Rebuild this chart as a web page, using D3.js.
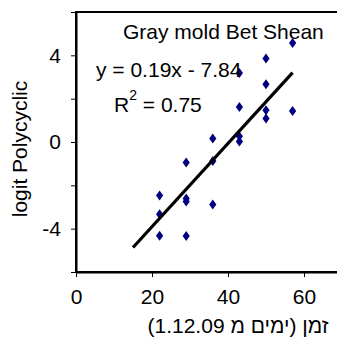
<!DOCTYPE html>
<html>
<head>
    <meta charset="utf-8">
    <script src="https://cdn.jsdelivr.net/npm/d3@7"></script>
    <style>
        body { margin: 0px; background: white; }
        text { font-family: "Liberation Sans", Arial, sans-serif; fill: black; }
    </style>
</head>
<body>
    <svg id="chart" width="337" height="347"></svg>
    <script>
        // days since 1.12.09 and the logit values
        var days = [22, 22, 22, 29, 29, 29, 29, 36, 36, 36, 43, 43, 43, 43, 50, 50, 50, 50, 57, 57];
        var logitVals = [-2.47, -3.33, -4.33, -0.95, -2.61, -2.75, -4.34, 0.16, -0.88, -2.89,
                         3.18, 1.62, 0.26, 0.02, 3.85, 2.66, 1.46, 1.08, 4.57, 1.43];
        // linear trend line ends
        var trendX = [15, 57];
        var trendY = [-4.87, 3.2];

        var xTicks = [0, 20, 40, 60];
        var yTicks = [-6, -4, -2, 0, 2, 4, 6];
        var yLabels = [-4, 0, 4];

        var svg = d3.select("#chart");
        // plot area box (note: "top" is reserved on window, so use plotTop)
        var plotLeft = 76, plotTop = 12, plotW = 266, plotH = 260;
        var fs = "21px";

        var x = d3.scaleLinear().domain([0, 70]).range([plotLeft, plotLeft + plotW]);
        var y = d3.scaleLinear().domain([-6, 6]).range([plotTop + plotH, plotTop]);

        // plot area border (right edge falls outside the window)
        svg.append("rect")
            .attr("x", plotLeft).attr("y", plotTop)
            .attr("width", plotW).attr("height", plotH)
            .style("fill", "none").style("stroke", "black").style("stroke-width", "2px");

        var xAxis = svg.append("g")
            .attr("transform", "translate(0," + (plotTop + plotH) + ")")
            .call(d3.axisBottom(x).tickValues(xTicks).tickSize(5).tickSizeOuter(0).tickPadding(12).tickFormat(d => String(d)));

        var yAxis = svg.append("g")
            .attr("transform", "translate(" + plotLeft + ",0)")
            .call(d3.axisLeft(y).tickValues(yTicks).tickSize(5).tickSizeOuter(0).tickPadding(10)
                .tickFormat(d => yLabels.indexOf(d) >= 0 ? String(d) : ""));

        [xAxis, yAxis].forEach(function(a){
            a.select(".domain").style("stroke", "black").style("stroke-width", "2px");
            a.selectAll(".tick line").style("stroke", "black").style("stroke-width", "1px");
            a.selectAll("text").style("font-size", fs).style("font-family", "Liberation Sans, Arial, sans-serif").attr("fill", "black");
        });

        // points as narrow diamonds
        svg.selectAll("path.pt")
            .data(days)
            .enter()
            .append("path")
            .attr("class", "pt")
            .attr("d", "M0,-5L3.6,0L0,5L-3.6,0Z")
            .attr("transform", (d, i) => "translate(" + x(d) + "," + y(logitVals[i]) + ")")
            .style("fill", "#000080");

        svg.append("line")
            .attr("x1", x(trendX[0])).attr("y1", y(trendY[0]))
            .attr("x2", x(trendX[1])).attr("y2", y(trendY[1]))
            .style("stroke", "black").style("stroke-width", "3.2px");

        // texts
        svg.append("text").attr("x", 123).attr("y", 39).style("font-size", fs).text("Gray mold Bet Shean");
        svg.append("text").attr("x", 96).attr("y", 77).style("font-size", fs).text("y = 0.19x - 7.84");
        var r2 = svg.append("text").attr("x", 114).attr("y", 112).style("font-size", fs);
        r2.append("tspan").text("R");
        r2.append("tspan").attr("dy", -12).style("font-size", "14px").text("2");
        r2.append("tspan").attr("dy", 12).text(" = 0.75");

        svg.append("text")
            .attr("transform", "translate(27,149) rotate(-90)")
            .attr("text-anchor", "middle")
            .style("font-size", fs)
            .text("logit Polycyclic");

        svg.append("text")
            .attr("x", 238).attr("y", 333)
            .attr("text-anchor", "middle")
            .attr("direction", "rtl")
            .style("font-size", fs)
            .text("זמן (ימים מ 1.12.09)");
    </script>
</body>
</html>
